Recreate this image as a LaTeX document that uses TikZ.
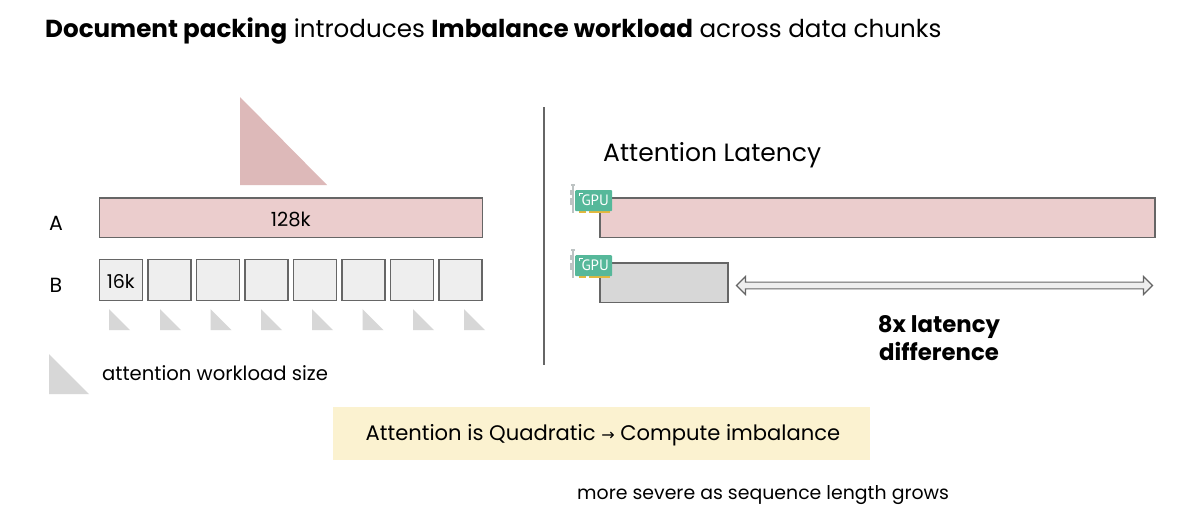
\documentclass[tikz,border=0pt]{standalone}
\usepackage{fontspec}
\setmainfont{Poppins}
\newfontfamily\gpufont{PT Sans}
\usetikzlibrary{shapes.arrows}
\definecolor{pinkfill}{HTML}{EBCDCD}
\definecolor{pinktri}{HTML}{DDB9B9}
\definecolor{lightbox}{HTML}{EEEEEE}
\definecolor{midgray}{HTML}{D7D7D7}
\definecolor{edgegray}{HTML}{666666}
\definecolor{note}{HTML}{FBF2D0}
\definecolor{gpugreen}{HTML}{56B89A}
\definecolor{gpubrk}{HTML}{BDC3C3}
\definecolor{gpugold}{HTML}{E5B83C}
\tikzset{
  x=1pt,y=-1pt,
  bar/.style={draw=edgegray,line width=1.5pt,anchor=north west,inner sep=0pt,text=black},
  chunk/.style={bar,fill=lightbox,minimum width=43pt,minimum height=41pt},
  lbl/.style={font=\fontsize{20.5}{24}\selectfont,text=black,inner sep=0pt},
  tri/.style={fill=midgray,draw=none},
}
\newcommand{\gpuicon}[3]{%
  \fill[gpubrk] (#1-3,#2-6) rectangle (#1-1,#2+23);
  \fill[gpubrk] (#1-4,#2-6) rectangle (#1,#2-4);
  \fill[gpubrk] (#1-5,#2) rectangle (#1-1,#2+5);
  \fill[gpubrk] (#1-5,#2+8) rectangle (#1-1,#2+15);
  \fill[gpugold] (#1+4,#2+20) rectangle (#1+11,#2+23);
  \fill[gpugold] (#1+14,#2+20) rectangle (#1+35,#2+23);
  \node[fill=gpugreen,rounded corners=1pt,anchor=north west,minimum width=37pt,minimum height=21pt,inner sep=0pt,text=white,font=\gpufont\fontsize{15}{16}\selectfont] (#3) at (#1,#2) {\hspace{3pt}GPU};
  \draw[white,line width=.9pt] (#1+4.5,#2+6) -- (#1+4.5,#2+3) -- (#1+8,#2+3);
}
\begin{document}
\begin{tikzpicture}
\useasboundingbox (0,0) rectangle (1200,515);
\fill[white] (0,0) rectangle (1200,515);
\node[anchor=base west,inner sep=0pt,font=\fontsize{24.6}{28}\selectfont] (title) at (45,37) {\textbf{Document packing} introduces \textbf{Imbalance workload} across data chunks};

% left
\fill[pinktri] (240,97) -- (327,185) -- (240,185) -- cycle;
\node[lbl,anchor=base] (la) at (56,230) {A};
\node[lbl,anchor=base] (lb) at (56,292) {B};
\node[bar,fill=pinkfill,minimum width=383pt,minimum height=39.5pt] (a) at (98.5,197) {};
\node[font=\fontsize{19.5}{22}\selectfont,inner sep=0pt] (atext) at ([yshift=-2pt]a.center) {128k};
\node[chunk] (b1) at (98.5,258.5) {};
\node[font=\fontsize{19}{22}\selectfont,inner sep=0pt] (btext) at ([yshift=-2pt]b1.center) {16k};
\node[chunk] (b2) at (147,258.5) {};
\node[chunk] (b3) at (195.5,258.5) {};
\node[chunk] (b4) at (244,258.5) {};
\node[chunk] (b5) at (292.5,258.5) {};
\node[chunk] (b6) at (341,258.5) {};
\node[chunk] (b7) at (389.5,258.5) {};
\node[chunk] (b8) at (438,258.5) {};
\foreach \x in {109,160,210.5,261,312,362.5,413,464}
  \fill[tri] (\x,309) -- (\x+21,330) -- (\x,330) -- cycle;
\fill[tri] (49,354) -- (89,394) -- (49,394) -- cycle;
\node[anchor=base west,inner sep=0pt,font=\fontsize{19.6}{22}\selectfont] (legend) at (102,380) {attention workload size};

% divider
\draw[edgegray,line width=1.3pt] (544,107) -- (544,365);

% right
\node[anchor=base west,inner sep=0pt,font=\fontsize{25}{28}\selectfont] (latency) at (603,161) {Attention Latency};
\node[bar,fill=pinkfill,minimum width=555pt,minimum height=39.5pt] (ra) at (599,197) {};
\node[bar,fill=midgray,minimum width=128pt,minimum height=39.5pt] (rb) at (599,262) {};
\gpuicon{575}{190}{g1}
\gpuicon{575}{255}{g2}
\node[double arrow,draw=edgegray,fill=lightbox,line width=1.2pt,minimum width=18pt,minimum height=416pt,double arrow head extend=3.5pt,double arrow head indent=0pt,inner sep=1.5pt] (span) at (944.5,285.5) {};
\node[align=center,font=\bfseries\fontsize{22.8}{28}\selectfont,anchor=north] (diff) at (939,312) {8x latency\\[0pt]difference};

% footer
\node[fill=note,minimum width=537pt,minimum height=53pt,inner sep=0pt] (note) at (601.5,433) {};
\node[inner sep=0pt,font=\fontsize{21.1}{23}\selectfont] (notetext) at ([xshift=1.5pt,yshift=-2pt]note.center) {Attention is Quadratic {\fontspec{DejaVu Sans}\fontsize{16}{23}\selectfont →} Compute imbalance};
\node[anchor=base west,inner sep=0pt,font=\fontsize{18.9}{20}\selectfont] (sev) at (577,499) {more severe as sequence length grows};
\end{tikzpicture}
\end{document}
